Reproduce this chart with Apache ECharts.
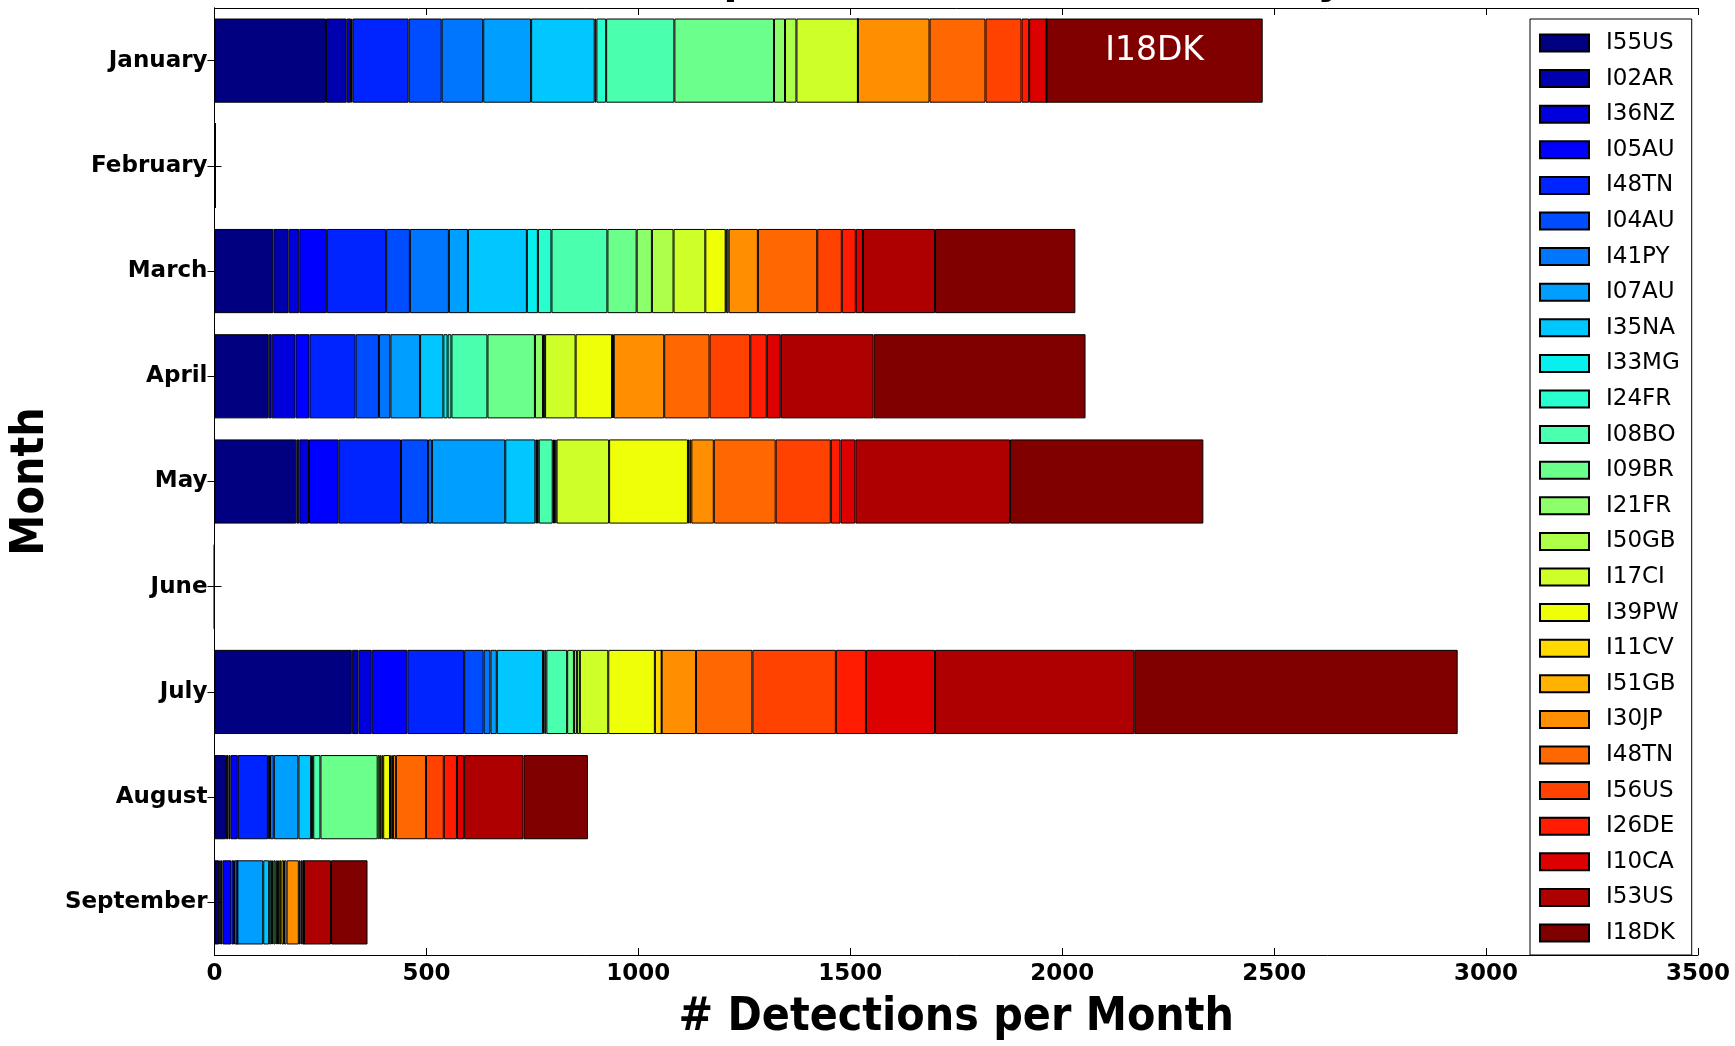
<!DOCTYPE html>
<html>
<head>
<meta charset="utf-8">
<title>Detections per Month</title>
<script src="https://cdn.jsdelivr.net/npm/echarts@6/dist/echarts.min.js"></script>
<style>
  html, body { margin: 0; padding: 0; background: #fff; }
  #chart { width: 1735px; height: 1046px; }
</style>
</head>
<body>
<div id="chart"></div>
<script>
// Months shown on the category axis (top to bottom)
const months = ['January', 'February', 'March', 'April', 'May', 'June', 'July', 'August', 'September'];

// Value axis ticks
const xTicks = [0, 500, 1000, 1500, 2000, 2500, 3000, 3500];

// Station names in stacking / legend order
const stationNames = ['I55US', 'I02AR', 'I36NZ', 'I05AU', 'I48TN', 'I04AU', 'I41PY', 'I07AU', 'I35NA',
  'I33MG', 'I24FR', 'I08BO', 'I09BR', 'I21FR', 'I50GB', 'I17CI', 'I39PW', 'I11CV', 'I51GB', 'I30JP',
  'I48TN', 'I56US', 'I26DE', 'I10CA', 'I53US', 'I18DK'];

// Detections per month for each station: Jan..Sep
const I55US   = [263, 2, 139, 128, 193, 0, 324, 27, 11];
const I02AR   = [49, 0, 36, 7, 7, 0, 16, 6, 4];
const I36NZ   = [10, 0, 25, 56, 23, 0, 31, 5, 4];
const I05AU   = [4, 0, 65, 33, 70, 0, 84, 17, 21];
const I48TN_1 = [132, 0, 140, 109, 147, 0, 134, 71, 6];
const I04AU   = [78, 0, 56, 55, 64, 0, 46, 5, 8];
const I41PY   = [98, 0, 92, 27, 9, 0, 16, 9, 0];
const I07AU   = [113, 0, 45, 70, 173, 0, 15, 58, 61];
const I35NA   = [150, 0, 139, 55, 71, 0, 109, 30, 14];
const I33MG   = [4, 0, 26, 10, 4, 0, 4, 3, 5];
const I24FR   = [23, 0, 32, 9, 4, 0, 4, 2, 2];
const I08BO   = [161, 0, 132, 85, 33, 0, 49, 17, 3];
const I09BR   = [235, 0, 69, 112, 3, 0, 16, 135, 5];
const I21FR   = [26, 0, 36, 19, 3, 0, 7, 5, 3];
const I50GB   = [27, 0, 51, 5, 3, 0, 7, 4, 3];
const I17CI   = [145, 0, 75, 72, 124, 0, 67, 4, 4];
const I39PW   = [0, 0, 48, 86, 186, 0, 110, 16, 4];
const I11CV   = [0, 0, 2, 2, 4, 0, 16, 3, 6];
const I51GB   = [0, 0, 5, 2, 4, 0, 0, 4, 6];
const I30JP   = [169, 0, 69, 119, 53, 0, 81, 7, 29];
const I48TN_2 = [132, 0, 140, 107, 146, 0, 133, 71, 4];
const I56US   = [85, 0, 58, 96, 130, 0, 197, 42, 4];
const I26DE   = [18, 0, 33, 39, 23, 0, 71, 31, 4];
const I10CA   = [41, 0, 17, 33, 35, 0, 163, 17, 0];
const I53US   = [0, 0, 170, 219, 365, 0, 470, 140, 64];
const I18DK   = [510, 0, 331, 500, 456, 0, 763, 152, 86];

const stationValues = [I55US, I02AR, I36NZ, I05AU, I48TN_1, I04AU, I41PY, I07AU, I35NA,
  I33MG, I24FR, I08BO, I09BR, I21FR, I50GB, I17CI, I39PW, I11CV, I51GB, I30JP,
  I48TN_2, I56US, I26DE, I10CA, I53US, I18DK];

// Jet colour ramp, one step per station
const jetColors = ['#000080', '#0000ae', '#0000dc', '#0000ff', '#0024ff', '#004cff', '#0076ff',
  '#009eff', '#00c7ff', '#08f0ee', '#29ffce', '#4affad', '#6bff8c', '#8cff6b', '#adff4a',
  '#ceff29', '#eeff08', '#ffd900', '#ffb300', '#ff8e00', '#ff6800', '#ff4200', '#ff1c00',
  '#dc0000', '#ae0000', '#800000'];

const FONT = 'DejaVu Sans';
const FONT_COND = '"DejaVu Sans Condensed", "DejaVu Sans"';

// Series names must be unique; the repeated station gets a trailing space that the legend trims
const seen = {};
const series = stationNames.map((name, i) => {
  let sname = name;
  while (seen[sname]) sname += ' ';
  seen[sname] = true;
  const isLast = i === stationNames.length - 1;
  const data = stationValues[i].map((v, m) => {
    if (isLast && m === 0) {
      return {
        value: v,
        label: {
          show: true, position: 'inside', offset: [0, -9],
          formatter: name, color: '#fff', fontFamily: FONT, fontSize: 33
        }
      };
    }
    return v;
  });
  return {
    name: sname,
    type: 'bar',
    stack: 'total',
    barWidth: '80%',
    xAxisIndex: 0,
    yAxisIndex: 0,
    itemStyle: { color: jetColors[i], borderColor: '#000', borderWidth: 1 },
    emphasis: { disabled: true },
    data: data
  };
});

const chart = echarts.init(document.getElementById('chart'), null, { renderer: 'canvas' });

const axisLine = { show: true, lineStyle: { color: '#000', width: 1 } };

chart.setOption({
  animation: false,
  backgroundColor: '#fff',
  graphic: [{
    type: 'text',
    x: 867, y: -19, z: 100,
    style: {
      text: 'Infrasound Detections per Month for all IMS Arrays [2014]',
      fontFamily: FONT_COND, fontWeight: 'bold', fontSize: 45,
      fill: '#000', align: 'center', verticalAlign: 'middle'
    }
  }],
  grid: { left: 212, right: 37, top: 8, bottom: 75, containLabel: false },
  legend: {
    orient: 'vertical',
    left: 1530, top: 19,
    icon: 'rect',
    itemWidth: 49, itemHeight: 17, itemGap: 11.6,
    padding: [12, 12, 10, 9],
    backgroundColor: '#fff',
    borderColor: '#000', borderWidth: 1,
    formatter: n => n.trim(),
    textStyle: { fontFamily: FONT, fontSize: 23, color: '#000', lineHeight: 24, padding: [0, 0, 0, 12] },
    selectedMode: false,
    data: series.map(s => s.name)
  },
  xAxis: [{
    type: 'value',
    position: 'bottom',
    min: xTicks[0], max: xTicks[xTicks.length - 1], interval: xTicks[1] - xTicks[0],
    name: '# Detections per Month',
    nameLocation: 'middle', nameGap: 40,
    nameTextStyle: { fontFamily: FONT_COND, fontWeight: 'bold', fontSize: 46, color: '#000' },
    axisLine: axisLine,
    axisTick: { show: true, inside: true, length: 7, lineStyle: { color: '#000' } },
    axisLabel: {
      fontFamily: FONT, fontWeight: 'bold', fontSize: 23, color: '#000', margin: 8,
      formatter: v => String(v)
    },
    splitLine: { show: false }
  }, {
    type: 'value',
    position: 'top',
    min: xTicks[0], max: xTicks[xTicks.length - 1], interval: xTicks[1] - xTicks[0],
    axisLine: axisLine,
    axisTick: { show: true, inside: true, length: 7, lineStyle: { color: '#000' } },
    axisLabel: { show: false },
    splitLine: { show: false }
  }],
  yAxis: [{
    type: 'category',
    position: 'left',
    inverse: true,
    data: months,
    name: 'Month',
    nameLocation: 'middle', nameGap: 142, nameRotate: 90,
    nameTextStyle: { fontFamily: FONT_COND, fontWeight: 'bold', fontSize: 46, color: '#000' },
    axisLine: axisLine,
    axisTick: { show: true, inside: true, length: 7, alignWithLabel: true, lineStyle: { color: '#000' } },
    axisLabel: { fontFamily: FONT, fontWeight: 'bold', fontSize: 23, color: '#000', margin: 7, interval: 0 },
    splitLine: { show: false }
  }, {
    type: 'category',
    position: 'right',
    inverse: true,
    data: months,
    axisLine: axisLine,
    axisTick: { show: true, inside: true, length: 7, alignWithLabel: true, lineStyle: { color: '#000' } },
    axisLabel: { show: false },
    splitLine: { show: false }
  }],
  series: series
});
</script>
</body>
</html>
